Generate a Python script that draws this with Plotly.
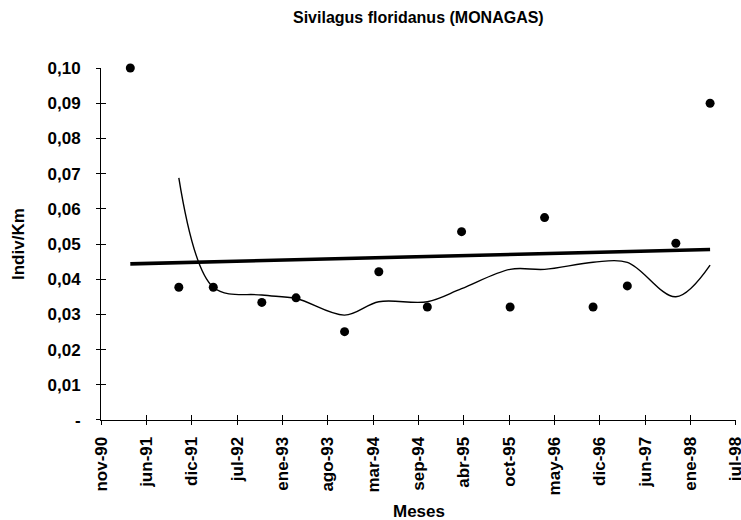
import numpy as np
import pandas as pd
import plotly.graph_objects as go

# Observaciones: abundancia (individuos/km) por fecha de muestreo
fechas = ["1991-04-01", "1991-11-01", "1992-04-01", "1992-11-01", "1993-04-01",
          "1993-11-01", "1994-04-01", "1994-11-01", "1995-04-01", "1995-11-01",
          "1996-04-01", "1996-11-01", "1997-04-01", "1997-11-01", "1998-04-01"]
indiv_km = [0.100, 0.0377, 0.0377, 0.0334, 0.0347, 0.0251, 0.0421, 0.0321,
            0.0535, 0.0321, 0.0575, 0.0321, 0.0381, 0.0502, 0.090]

# Curva de media móvil (2 periodos), valores por fecha desde el segundo muestreo
media_movil = [0.0688, 0.0377, 0.0355, 0.0345, 0.0298, 0.0336, 0.0336, 0.0373,
               0.0428, 0.0428, 0.0448, 0.0448, 0.0350, 0.0440]

# Eje de fechas: inicio, paso entre marcas (días) y rótulos
eje_inicio = "1990-11-23"
paso_dias = 200
etiquetas_mes = ["nov-90", "jun-91", "dic-91", "jul-92", "ene-93", "ago-93", "mar-94",
                 "sep-94", "abr-95", "oct-95", "may-96", "dic-96", "jun-97", "ene-98",
                 "jul-98"]
etiquetas_y = ["-", "0,01", "0,02", "0,03", "0,04", "0,05", "0,06", "0,07", "0,08",
               "0,09", "0,10"]
valores_y = [i / 100 for i in range(len(etiquetas_y))]

fx = pd.to_datetime(fechas)
t0 = pd.Timestamp(eje_inicio)
marcas_x = [t0 + pd.Timedelta(days=paso_dias * k) for k in range(len(etiquetas_mes))]
# pequeño margen para que la última marca conserve su rótulo
rango_x = [marcas_x[0] - pd.Timedelta(hours=6), marcas_x[-1] + pd.Timedelta(hours=6)]
rango_y = [-0.00001, 0.10001]

# Tendencia lineal por mínimos cuadrados
dias = np.array([(d - fx[0]).days for d in fx], dtype=float)
m, b = np.polyfit(dias, np.array(indiv_km), 1)
tend_x = [fx[0], fx[-1]]
tend_y = [b, m * dias[-1] + b]

FONT = "Arial, 'Liberation Sans', sans-serif"
FS = 17

fig = go.Figure()
fig.add_trace(go.Scatter(x=fx, y=indiv_km, mode="markers",
                         marker=dict(color="black", size=9), cliponaxis=False,
                         showlegend=False))
fig.add_trace(go.Scatter(x=tend_x, y=tend_y, mode="lines",
                         line=dict(color="black", width=3.6), showlegend=False))
fig.add_trace(go.Scatter(x=fx[1:], y=media_movil, mode="lines",
                         line=dict(color="black", width=1.4, shape="spline", smoothing=1),
                         showlegend=False))
# traza auxiliar para los ejes superpuestos (marcas interiores)
fig.add_trace(go.Scatter(x=[fx[0], fx[-1]], y=[0.05, 0.05], xaxis="x2", yaxis="y2",
                         mode="markers", marker=dict(opacity=0), showlegend=False,
                         hoverinfo="skip"))

tickfont = dict(family=FONT, size=FS, color="black", weight="bold")

fig.update_layout(
    width=741, height=520,
    margin=dict(l=101, r=5, t=68, b=100),
    paper_bgcolor="white", plot_bgcolor="white",
    xaxis=dict(type="date", range=rango_x, tickmode="array", tickvals=marcas_x,
               ticktext=etiquetas_mes, tickangle=-90, ticks="outside", ticklen=4,
               tickwidth=1, tickcolor="black", showline=True, linecolor="black",
               linewidth=1, showgrid=False, zeroline=False, tickfont=tickfont,
               automargin=False, ticklabelstandoff=5, ticklabeloverflow="allow"),
    yaxis=dict(range=rango_y, tickmode="array", tickvals=valores_y,
               ticktext=etiquetas_y, ticks="outside", ticklen=4, tickwidth=1,
               tickcolor="black", showline=True, linecolor="black", linewidth=1,
               showgrid=False, zeroline=False, tickfont=tickfont, automargin=False,
               ticklabelstandoff=12, ticklabeloverflow="allow"),
    xaxis2=dict(type="date", range=rango_x, overlaying="x", anchor="y2",
                tickmode="array", tickvals=marcas_x, ticks="inside", ticklen=5,
                tickwidth=1, tickcolor="black", showticklabels=False,
                showline=False, showgrid=False, zeroline=False, side="bottom"),
    yaxis2=dict(range=rango_y, overlaying="y", anchor="x2", tickmode="array",
                tickvals=valores_y, ticks="inside", ticklen=5, tickwidth=1,
                tickcolor="black", showticklabels=False, showline=False,
                showgrid=False, zeroline=False, side="left"),
    annotations=[
        dict(text="Sivilagus floridanus (MONAGAS)", xref="paper", yref="paper",
             x=0.5, y=1 + 50 / 352, xanchor="center", yanchor="middle",
             showarrow=False, font=dict(family=FONT, size=FS - 1, color="black",
                                        weight="bold")),
        dict(text="Meses", xref="paper", yref="paper", x=0.5, y=-92 / 352,
             xanchor="center", yanchor="middle", showarrow=False,
             font=dict(family=FONT, size=FS, color="black", weight="bold")),
        dict(text="Indiv/Km", xref="paper", yref="paper", x=-83 / 635, y=0.5,
             xanchor="center", yanchor="middle", textangle=-90, showarrow=False,
             font=dict(family=FONT, size=FS, color="black", weight="bold")),
    ],
)

fig.write_html("out.html")
